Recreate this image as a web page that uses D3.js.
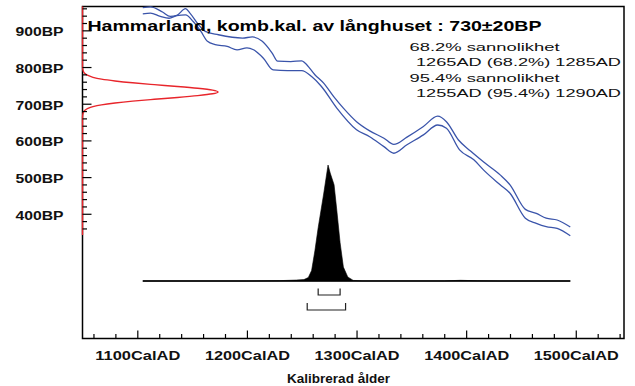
<!DOCTYPE html>
<html>
<head>
<meta charset="utf-8">
<script src="https://cdn.jsdelivr.net/npm/d3@7"></script>
<style>
  html, body { margin: 0; padding: 0; background: #fff; }
  svg { display: block; font-family: "Liberation Sans", Arial, sans-serif; }
</style>
</head>
<body>
<svg id="chart" width="635" height="386"></svg>
<script>
// ---- Data -------------------------------------------------------------
const titleText = "Hammarland, komb.kal. av långhuset : 730±20BP";
const rangeLines = [
  "68.2% sannolikhet",
  "1265AD (68.2%) 1285AD",
  "95.4% sannolikhet",
  "1255AD (95.4%) 1290AD"
];
const xAxisTitle = "Kalibrerad ålder";

const yearMajor = [1100, 1200, 1300, 1400, 1500];
const yearMinor = [1060, 1080, 1120, 1140, 1160, 1180, 1220, 1240, 1260, 1280,
                   1320, 1340, 1360, 1380, 1420, 1440, 1460, 1480, 1520, 1540];
const bpMajor = [400, 500, 600, 700, 800, 900];
const bpMinor = [360, 380, 420, 440, 460, 480, 520, 540, 560, 580, 620, 640, 660, 680,
                 720, 740, 760, 780, 820, 840, 860, 880, 920, 940, 960];

// Radiocarbon measurement (BP) as drawn on the vertical axis
const c14BP      = [342, 662, 672, 677, 682, 687, 692, 697, 702, 707, 712, 717, 722, 727, 732,
                    737, 742, 747, 752, 757, 762, 767, 772, 777, 782, 787, 792, 802, 965];
const c14Density = [0, 0, 0.003, 0.008, 0.018, 0.04, 0.077, 0.14, 0.24, 0.37, 0.53, 0.70, 0.85, 0.96, 1.0,
                    0.96, 0.85, 0.70, 0.53, 0.37, 0.24, 0.14, 0.077, 0.04, 0.018, 0.008, 0.003, 0, 0];

// Calibration curve, upper and lower 1-sigma edges: [calendar year AD, BP]
const calUpper = [[1105,962],[1112,964],[1123,950],[1130,938],[1136,941],[1144,959],[1148,947],
  [1156,915],[1162,897],[1174,888],[1196,879],[1205,882],[1214,870],[1223,838],[1228,816],
  [1240,815],[1250,817],[1253,811],[1262,779],[1270,756],[1279,720],[1288,688],[1300,651],
  [1312,626],[1325,606],[1334,589],[1346,609],[1361,638],[1374,666],[1382,651],[1393,601],
  [1404,571],[1416,541],[1431,506],[1440,479],[1454,412],[1464,401],[1473,388],[1483,383],[1495,364]];
const calLower = [[1105,945],[1112,947],[1121,938],[1129,933],[1136,940],[1144,942],[1151,924],
  [1158,897],[1164,870],[1171,861],[1182,856],[1191,847],[1200,852],[1206,847],[1215,824],
  [1224,792],[1237,790],[1250,790],[1259,774],[1268,747],[1282,688],[1300,629],[1312,610],
  [1325,583],[1334,565],[1346,588],[1361,615],[1374,642],[1382,633],[1394,574],[1407,547],
  [1416,519],[1431,479],[1440,456],[1454,388],[1464,374],[1473,365],[1483,360],[1495,340]];

// Calibrated probability distribution (relative)
const distYears = [1105, 1200, 1230, 1245, 1252, 1256, 1259, 1262, 1265, 1270, 1274, 1276, 1279.5,
                   1282, 1285, 1288, 1292, 1297, 1305, 1380, 1395, 1410, 1430, 1495];
const distProb  = [0, 0, 0.003, 0.008, 0.012, 0.03, 0.09, 0.26, 0.46, 0.75, 1.0, 0.93, 0.83,
                   0.61, 0.33, 0.12, 0.035, 0.005, 0.001, 0.001, 0.006, 0.002, 0, 0];

// Highest probability ranges
const range68 = [1265, 1285];
const range95 = [1255, 1290];

// ---- Layout -----------------------------------------------------------
const L = 82.5, R = 624, T = 6.5, B = 338.5;
const svg = d3.select("#chart");

const x = d3.scaleLinear().domain([1050, 1544]).range([L, R]);
const y = d3.scaleLinear().domain([60, 965]).range([B, T]);
const c14W = d3.scaleLinear().domain([0, 1]).range([L, 218]);
const distBase = 281, distTop = 165;
const p = d3.scaleLinear().domain([0, 1]).range([distBase, distTop]);

const blue = "#3a54aa", red = "#e8252b";

// Frame
svg.append("rect")
  .attr("x", L).attr("y", T).attr("width", R - L).attr("height", B - T)
  .attr("fill", "none").attr("stroke", "#000").attr("stroke-width", 1.5);

// Radiocarbon date drawn along the BP axis
svg.append("path")
  .datum(c14BP.map((d, i) => [d, c14Density[i]]))
  .attr("fill", "none").attr("stroke", red).attr("stroke-width", 1.4)
  .attr("d", d3.line().x(d => c14W(d[1])).y(d => y(d[0])).curve(d3.curveMonotoneY));

// Y ticks (inside the frame)
function styleTicks(g) { g.select(".domain").remove(); g.selectAll("line").attr("stroke", "#000").attr("stroke-width", 1.2); }
svg.append("g").attr("transform", `translate(${L},0)`)
  .call(d3.axisRight(y).tickValues(bpMinor).tickSize(4.5).tickFormat(""))
  .call(styleTicks);
svg.append("g").attr("transform", `translate(${L},0)`)
  .call(d3.axisRight(y).tickValues(bpMajor).tickSize(9).tickFormat(""))
  .call(styleTicks);
// Y labels
const yLab = svg.append("g").attr("transform", `translate(${L},0)`)
  .call(d3.axisLeft(y).tickValues(bpMajor).tickSize(0).tickPadding(19).tickFormat(d => d + "BP"));
yLab.select(".domain").remove();
yLab.selectAll("text")
  .attr("font-family", null).attr("dy", null).attr("y", 5.5)
  .style("font-size", "12px").style("font-weight", "bold").attr("fill", "#111")
  .attr("textLength", 48).attr("lengthAdjust", "spacingAndGlyphs");

// X ticks (inside the frame)
svg.append("g").attr("transform", `translate(0,${B})`)
  .call(d3.axisTop(x).tickValues(yearMinor).tickSize(4.5).tickFormat(""))
  .call(styleTicks);
svg.append("g").attr("transform", `translate(0,${B})`)
  .call(d3.axisTop(x).tickValues(yearMajor).tickSize(8).tickFormat(""))
  .call(styleTicks);
const xLab = svg.append("g").attr("transform", `translate(0,${B})`)
  .call(d3.axisBottom(x).tickValues(yearMajor).tickSize(0).tickFormat(d => d + "CalAD"));
xLab.select(".domain").remove();
xLab.selectAll("text")
  .attr("font-family", null).attr("dy", null).attr("y", 21.5)
  .style("font-size", "13px").style("font-weight", "bold").attr("fill", "#111")
  .attr("textLength", 85).attr("lengthAdjust", "spacingAndGlyphs");

svg.append("text")
  .attr("x", 338.5).attr("y", 382.5).attr("text-anchor", "middle")
  .style("font-size", "12px").style("font-weight", "bold").attr("fill", "#111")
  .attr("textLength", 103).attr("lengthAdjust", "spacingAndGlyphs")
  .text(xAxisTitle);

// Calibration curve
const calLine = d3.line().x(d => x(d[0])).y(d => y(d[1])).curve(d3.curveMonotoneX);
[calUpper, calLower].forEach(c => {
  svg.append("path").datum(c)
    .attr("fill", "none").attr("stroke", blue).attr("stroke-width", 1.3)
    .attr("d", calLine);
});

// Calibrated distribution
const dist = distYears.map((d, i) => [d, distProb[i]]);
svg.append("path").datum(dist)
  .attr("fill", "#000").attr("stroke", "#000").attr("stroke-width", 0.6)
  .attr("d", d3.area().x(d => x(d[0])).y0(distBase).y1(d => p(d[1])));
svg.append("line")
  .attr("x1", x(distYears[0])).attr("x2", x(distYears[distYears.length - 1]))
  .attr("y1", distBase).attr("y2", distBase)
  .attr("stroke", "#000").attr("stroke-width", 1.6);

// Range brackets
function bracket(r, yb, h) {
  svg.append("path")
    .attr("fill", "none").attr("stroke", "#222").attr("stroke-width", 1.2)
    .attr("d", `M${x(r[0])},${yb - h}V${yb}H${x(r[1])}V${yb - h}`);
}
bracket(range68, 295, 6.5);
bracket(range95, 310, 7);

// Title
svg.append("text")
  .attr("x", 87.5).attr("y", 31)
  .style("font-size", "14.5px").style("font-weight", "bold").attr("fill", "#000")
  .attr("textLength", 454).attr("lengthAdjust", "spacingAndGlyphs")
  .text(titleText);

// Probability ranges text
const rangeX = [409.5, 416, 409.5, 416];
const rangeY = [50.5, 66, 81.5, 97];
const rangeW = [150, 205, 150, 205];
rangeLines.forEach((t, i) => {
  svg.append("text")
    .attr("x", rangeX[i]).attr("y", rangeY[i])
    .style("font-size", "11.5px").attr("fill", "#111")
    .attr("textLength", rangeW[i]).attr("lengthAdjust", "spacingAndGlyphs")
    .text(t);
});
</script>
</body>
</html>
